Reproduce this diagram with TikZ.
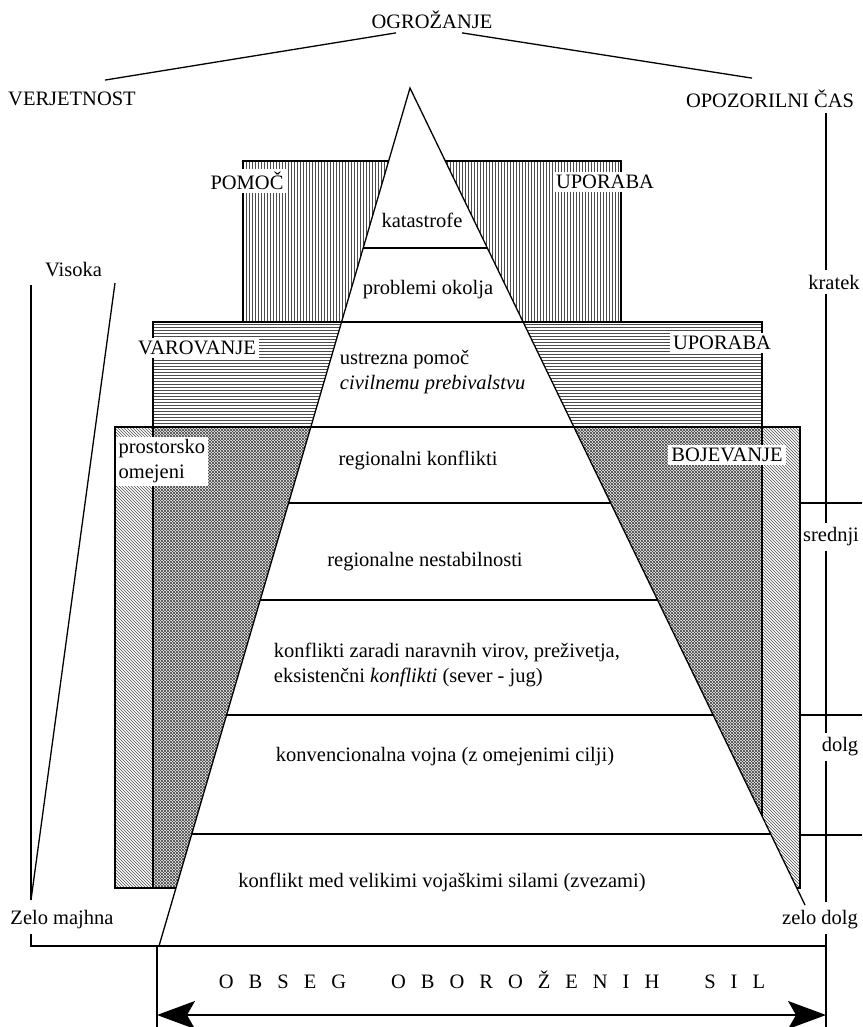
\documentclass[tikz,border=0pt]{standalone}
\usepackage{fontspec}
\setmainfont{Liberation Serif}
\usetikzlibrary{patterns,arrows.meta,calc}

\begin{document}
\begin{tikzpicture}[x=1pt,y=-1pt,line width=1.3pt,
		font=\fontsize{20.5}{25}\selectfont,
		oznaka/.style={fill=white,inner sep=3pt},
		lestvica/.style={inner sep=4pt}]
		%%% Barve
		\definecolor{crta}{gray}{0.3}
		\def\ls{15pt}
		\useasboundingbox (0,0) rectangle (862,1027);

		%%% Ogrozanje
		\node (ogr) at (432,20) {OGROŽANJE};
		\node (verj) at (72,99) {VERJETNOST};
		\node (opoz) at (770,99) {OPOZORILNI ČAS};
		\draw ($(ogr.south)+(-36,0)$) -- ($(verj.north)+(33,-8)$);
		\draw ($(ogr.south)+(30,0)$) -- ($(opoz.north)+(-18,-8)$);

		%%% Polja (od spodaj navzgor)
		\fill[pattern=north west lines,pattern color=crta] (115,427) rectangle (800,888);
		\draw (115,427) rectangle (800,888);
		\fill[pattern=crosshatch,pattern color=crta] (153,427) rectangle (762,888);
		\draw (153,427) rectangle (762,888);
		\fill[pattern=horizontal lines,pattern color=crta] (153,322) rectangle (762,427);
		\draw (153,322) rectangle (762,427);
		\fill[pattern=vertical lines,pattern color=crta] (243,161) rectangle (621,322);
		\draw (243,161) rectangle (621,322);

		%%% Piramida
		\coordinate (vrh) at (410,88);
		\coordinate (levo) at (159,946);
		\coordinate (desno) at (805,905);
		\fill[white] (vrh) -- (levo) -- (805,946) -- (desno) -- cycle;
		\draw (levo) -- (vrh) -- (desno);
		\foreach \y in {248,322,427,503,600,715,834} {
			\draw (intersection of vrh--levo and 0,\y--10,\y) -- (intersection of vrh--desno and 0,\y--10,\y);
		}

		%%% Ravni
		\node (kat) at (422,220) {katastrofe};
		\node (okol) at (428,290) {problemi okolja};
		\node[anchor=west,align=left] (pomoc) at (336,372) {ustrezna pomoč\\\textit{civilnemu prebivalstvu}};
		\node (reg) at (418,460) {regionalni konflikti};
		\node (nest) at (425,562) {regionalne nestabilnosti};
		\node[anchor=west,align=left] (viri) at (270,665) {konflikti zaradi naravnih virov, preživetja,\\eksistenčni \textit{konflikti} (sever - jug)};
		\node (konv) at (445,757) {konvencionalna vojna (z omejenimi cilji)};
		\node (vel) at (442,882) {konflikt med velikimi vojaškimi silami (zvezami)};

		%%% Napisi na poljih
		\node[oznaka] (pom) at (247,181) {POMOČ};
		\node[oznaka] (upo1) at (605,182) {UPORABA};
		\node[oznaka] (varo) at (197,348) {VAROVANJE};
		\node[oznaka] (upo2) at (722,343) {UPORABA};
		\node[oznaka] (boj) at (727,455) {BOJEVANJE};
		\node[oznaka,anchor=north west,align=left] (prost) at (115,436) {prostorsko\\omejeni};

		%%% Verjetnost
		\node[anchor=east] (vis) at (106,270) {Visoka};
		\node[lestvica] (zm) at (62,920) {Zelo majhna};
		\coordinate (ldno) at (31,900);
		\draw (31,285) -- (ldno);
		\draw (115,283) -- (ldno);

		%%% Opozorilni cas
		\node[lestvica] (krat) at (834,282) {kratek};
		\node[lestvica] (sred) at (831,537) {srednji};
		\node[lestvica] (dolg) at (840,747) {dolg};
		\node[lestvica] (zd) at (820,920) {zelo dolg};
		\draw (826,113) -- (krat.north -| 826,0);
		\draw (krat.south -| 826,0) -- (sred.north -| 826,0);
		\draw (sred.south -| 826,0) -- (dolg.north -| 826,0);
		\draw (dolg.south -| 826,0) -- (826,902);
		\foreach \y in {503,715,835} {
			\draw (800,\y) -- (862,\y);
		}

		%%% Obseg
		\coordinate (bl) at (157,946);
		\coordinate (br) at (826,946);
		\draw (zm.south -| 31,0) -- (31,946) -- (br);
		\draw (zd.south -| br) -- (826,1027);
		\draw (bl) -- (157,1027);
		\node (obseg) at (492,980) {O\hspace{\ls}B\hspace{\ls}S\hspace{\ls}E\hspace{\ls}G\hspace{45pt}O\hspace{\ls}B\hspace{\ls}O\hspace{\ls}R\hspace{\ls}O\hspace{\ls}Ž\hspace{\ls}E\hspace{\ls}N\hspace{\ls}I\hspace{\ls}H\hspace{45pt}S\hspace{\ls}I\hspace{\ls}L};
		\draw[<->,>={Stealth[length=38pt,width=28pt,inset=8pt]}] (157,1015) -- (826,1015);
\end{tikzpicture}
\end{document}
